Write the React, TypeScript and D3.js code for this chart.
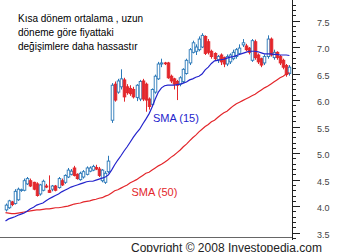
import React from "react";
import * as d3 from "d3";

const opens = [3.93,3.97,4.08,4.05,4.12,4.30,4.30,4.42,4.48,4.45,4.42,4.23,4.30,4.38,4.30,4.32,4.38,4.35,4.48,4.45,4.55,4.60,4.72,4.60,4.50,4.55,4.60,4.66,4.68,4.73,4.70,4.48,4.45,4.65,
  5.62,6.30,6.15,6.25,6.38,6.25,6.22,6.20,6.05,6.02,6.36,6.30,6.02,5.92,6.15,6.40,6.68,6.70,6.70,6.45,6.40,6.35,6.30,6.35,6.50,6.70,6.90,6.92,6.95,7.00,7.20,7.10,6.92,6.88,6.76,6.85,6.80,6.68,6.72,6.78,6.82,6.88,7.04,7.02,6.98,6.75,7.10,6.85,6.78,6.70,6.82,7.15,6.80,6.90,6.82,6.75,6.65,6.50];
const highs = [4.05,4.12,4.10,4.32,4.35,4.33,4.52,4.55,4.52,4.46,4.45,4.42,4.50,4.42,4.58,4.40,4.40,4.55,4.52,4.60,4.72,4.70,4.76,4.62,4.65,4.68,4.75,4.75,4.78,4.78,4.74,4.70,4.66,4.95,
  6.32,6.35,6.40,6.58,6.42,6.30,6.28,6.25,6.30,6.38,6.40,6.33,6.05,6.22,6.48,6.72,6.78,6.72,6.72,6.48,6.42,6.38,6.45,6.60,6.78,6.98,7.12,7.05,7.20,7.26,7.22,7.15,6.95,6.90,6.85,6.88,6.82,6.86,6.88,6.95,6.98,7.05,7.15,7.06,7.00,7.15,7.14,6.88,6.80,6.86,7.22,7.18,6.95,6.92,6.85,6.78,6.68,6.66];
const lows = [3.90,3.95,4.00,4.03,4.10,4.27,4.28,4.40,4.36,4.30,4.18,4.20,4.28,4.34,4.25,4.28,4.28,4.33,4.38,4.42,4.53,4.58,4.56,4.50,4.48,4.52,4.58,4.64,4.66,4.68,4.55,4.45,4.42,4.62,
  5.57,5.97,6.12,6.20,5.97,6.10,6.08,6.03,5.98,5.98,5.98,5.78,5.82,5.88,6.12,6.38,6.62,6.66,6.40,6.32,6.20,6.00,6.26,6.32,6.48,6.66,6.88,6.85,6.92,6.98,6.85,6.86,6.78,6.74,6.70,6.66,6.62,6.64,6.68,6.75,6.78,6.85,7.00,6.92,6.86,6.72,6.76,6.68,6.62,6.66,6.78,6.82,6.76,6.76,6.66,6.58,6.44,6.46];
const closes = [4.02,4.10,4.03,4.28,4.32,4.31,4.48,4.52,4.38,4.32,4.20,4.40,4.47,4.36,4.26,4.38,4.30,4.52,4.40,4.58,4.68,4.66,4.58,4.52,4.62,4.65,4.72,4.72,4.75,4.70,4.58,4.68,4.62,4.85,
  6.28,6.00,6.36,6.40,6.06,6.14,6.12,6.06,6.28,6.35,6.02,6.00,5.88,6.20,6.45,6.68,6.70,6.69,6.42,6.36,6.30,6.28,6.42,6.58,6.75,6.95,7.08,7.00,7.15,7.22,6.88,6.90,6.82,6.78,6.82,6.72,6.68,6.82,6.85,6.90,6.95,6.98,7.08,6.95,6.90,7.12,6.80,6.72,6.66,6.82,7.15,6.85,6.90,6.80,6.70,6.62,6.48,6.62];

const sma15 = [3.72,3.76,3.78,3.80,3.83,3.85,3.87,3.91,3.95,3.98,4.02,4.04,4.06,4.10,4.14,4.17,4.20,4.23,4.27,4.30,4.33,4.36,4.38,4.40,4.42,4.44,4.46,4.47,4.47,4.49,4.51,4.53,4.55,4.59,
  4.68,4.78,4.87,4.95,5.04,5.12,5.21,5.30,5.38,5.45,5.55,5.64,5.74,5.87,6.02,6.15,6.23,6.27,6.28,6.28,6.28,6.29,6.30,6.32,6.34,6.38,6.40,6.43,6.45,6.49,6.57,6.62,6.69,6.74,6.75,6.76,6.77,6.79,6.81,6.82,6.84,6.86,6.88,6.90,6.92,6.92,6.92,6.91,6.89,6.87,6.87,6.87,6.86,6.86,6.85,6.85,6.85,6.84];
const sma50 = [3.88,3.87,3.86,3.86,3.87,3.88,3.89,3.90,3.91,3.92,3.93,3.93,3.94,3.95,3.95,3.96,3.97,3.97,3.98,3.99,4.00,4.02,4.04,4.05,4.06,4.08,4.09,4.10,4.12,4.13,4.15,4.16,4.19,4.21,
  4.25,4.29,4.31,4.34,4.37,4.40,4.44,4.47,4.50,4.54,4.58,4.62,4.64,4.68,4.72,4.76,4.79,4.83,4.87,4.92,4.96,5.01,5.06,5.12,5.17,5.23,5.29,5.34,5.40,5.45,5.50,5.54,5.59,5.62,5.67,5.72,5.76,5.79,5.84,5.89,5.93,5.96,5.99,6.02,6.05,6.08,6.11,6.15,6.19,6.23,6.26,6.30,6.34,6.38,6.42,6.45,6.49,6.52];

const majorTicks = [3.5, 4.0, 4.5, 5.0, 5.5, 6.0, 6.5, 7.0, 7.5];
const minorTicks = d3.range(34, 80).map((v) => v / 10);
const noteLines = ["Kısa dönem ortalama , uzun", "döneme göre fiyattaki", "değişimlere daha hassastır"];
const sma15Label = "SMA (15)";
const sma50Label = "SMA (50)";
const copyright = "Copyright © 2008 Investopedia.com";

const W = 337, H = 252;
const axisX = 292.5;
const bottomY = 237.5;

export default function App() {
  const y = d3.scaleLinear().domain([3.5, 7.5]).range([232.7, 20.5]);
  const x = d3.scaleLinear().domain([0, opens.length - 1]).range([5.5, 289.4]);
  const bw = 2.6;
  const line15 = d3.line<number>().x((_, i) => x(i)).y((d) => y(d));
  const blue = "#2a78b8";
  const red = "#e3262b";
  const fmt = d3.format(".1f");
  return (
    <svg width={W} height={H} style={{ position: "absolute", left: 0, top: 0, display: "block", background: "#fff" }} fontFamily="Arial, 'Liberation Sans', sans-serif">
      <rect x={0} y={0} width={W} height={H} fill="#fff" />
      {opens.map((o, i) => {
        const c = closes[i];
        const up = c >= o;
        const col = up ? blue : red;
        const top = y(Math.max(o, c));
        const bot = y(Math.min(o, c));
        const cx = Math.round(x(i)) + 0.5;
        return (
          <g key={i}>
            <line x1={cx} x2={cx} y1={y(highs[i])} y2={y(lows[i])} stroke={col} strokeWidth={1} />
            <rect x={cx - bw / 2} y={top} width={bw} height={Math.max(bot - top, 0.8)} fill={up ? "#fff" : red} stroke={col} strokeWidth={0.9} />
          </g>
        );
      })}
      <path d={line15(sma50) || ""} fill="none" stroke={red} strokeWidth={1.2} />
      <path d={line15(sma15) || ""} fill="none" stroke="#2424cc" strokeWidth={1.2} />
      <line x1={0} x2={axisX} y1={bottomY} y2={bottomY} stroke="#666" strokeWidth={1} />
      <line x1={axisX} x2={axisX} y1={0} y2={240} stroke="#222" strokeWidth={1} />
      {minorTicks.map((v) => {
        const yy = Math.round(y(v)) + 0.5;
        const major = majorTicks.some((m) => Math.abs(m - v) < 1e-6);
        return <line key={v} x1={axisX} x2={axisX + (major ? 7.5 : 3.5)} y1={yy} y2={yy} stroke="#222" strokeWidth={1} />;
      })}
      {majorTicks.map((v) => (
        <text key={v} x={317} y={y(v) + 5.3} fontSize={9} fill="#444">{fmt(v)}</text>
      ))}
      {noteLines.map((t, i) => (
        <text key={i} x={18} y={22 + i * 14} fontSize={10} fill="#000">{t}</text>
      ))}
      <text x={153} y={121.5} fontSize={11} fill="#2424cc">{sma15Label}</text>
      <text x={131.5} y={195.5} fontSize={11} fill={red}>{sma50Label}</text>
      <text x={131} y={251.5} fontSize={12} fill="#222">{copyright}</text>
    </svg>
  );
}
